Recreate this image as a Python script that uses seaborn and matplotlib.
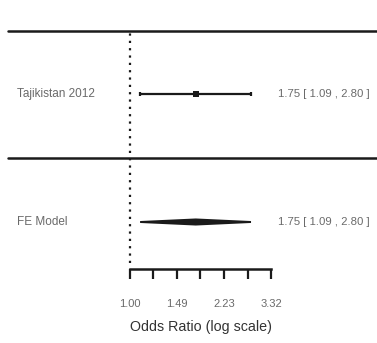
import numpy as np
import pandas as pd
import matplotlib
matplotlib.use("Agg")
import matplotlib.pyplot as plt
import seaborn as sns

# ---- data ----
study_names = ["Tajikistan 2012"]
study_or = [1.75]
study_lo = [1.09]
study_hi = [2.80]
model_name = "FE Model"
model_or = 1.75
model_lo = 1.09
model_hi = 2.80
tick_values = [1.00, 1.22, 1.49, 1.82, 2.23, 2.72, 3.32]
tick_labels = ["1.00", "", "1.49", "", "2.23", "", "3.32"]
xlabel = "Odds Ratio (log scale)"

sns.set_theme(style="white")
plt.rcParams['font.family'] = ['Liberation Sans', 'DejaVu Sans']

W, H = 377, 343
fig = plt.figure(figsize=(W / 100, H / 100), dpi=100)
ax_bottom = (H - 268.5) / H
ax = fig.add_axes([0, ax_bottom, 1, 1 - ax_bottom])

# x in log(OR) units; 117.5 px per unit, ln(1) at pixel 130
px_per = 117.5
x0 = -130 / px_per
x1 = (W - 130) / px_per
ax.set_xlim(x0, x1)
# y: study row at 1, model row at 0; 128 px per unit
py_per = 128.0
ax.set_ylim(-(268.5 - 222) / py_per, 1 + 94 / py_per)

line_col = "#1a1a1a"
text_col = "#6a6a6a"

df = pd.DataFrame({
    "name": study_names,
    "logor": np.log(study_or),
    "loglo": np.log(study_lo),
    "loghi": np.log(study_hi),
    "y": [1.0] * len(study_names),
})

# CI lines and caps
ax.hlines(df["y"], df["loglo"], df["loghi"], color=line_col, lw=1.6)
ax.vlines(df["loglo"], df["y"] - 0.015, df["y"] + 0.015, color=line_col, lw=1.6)
ax.vlines(df["loghi"], df["y"] - 0.015, df["y"] + 0.015, color=line_col, lw=1.6)
sns.scatterplot(data=df, x="logor", y="y", marker="s", s=14, color=line_col,
                edgecolor=line_col, linewidth=0, ax=ax, legend=False, zorder=3)

# diamond for the model
ml, me, mh = np.log(model_lo), np.log(model_or), np.log(model_hi)
dh = 0.02
ax.fill([ml, me, mh, me], [0, dh, 0, -dh], color=line_col, lw=1.4, ec=line_col)

# horizontal separator lines
for yy in [1.49, 0.5]:
    ax.axhline(yy, xmin=8 / W, xmax=1, color=line_col, lw=1.8)

# dotted reference line
ax.vlines(0, -(263 - 222) / py_per, 1.49, color=line_col, lw=1.6,
          linestyles=(0, (1, 2.3)))

# labels
rows = [(1.0, study_names[0], study_or[0], study_lo[0], study_hi[0]),
        (0.0, model_name, model_or, model_lo, model_hi)]
for yy, nm, e, lo, hi in rows:
    ax.text(17 / W, yy, nm, transform=ax.get_yaxis_transform(), ha="left",
            va="center", fontsize=8.5, color=text_col)
    ax.text(370 / W, yy, f"{e:.2f} [ {lo:.2f} , {hi:.2f} ]",
            transform=ax.get_yaxis_transform(), ha="right", va="center",
            fontsize=8.2, color=text_col)

# axis
for s in ["top", "left", "right"]:
    ax.spines[s].set_visible(False)
ax.spines["bottom"].set_visible(True)
ax.spines["bottom"].set_color(line_col)
ax.spines["bottom"].set_linewidth(1.8)
ax.spines["bottom"].set_bounds(np.log(tick_values[0]), np.log(tick_values[-1]))
ax.set_xticks(np.log(tick_values))
ax.set_xticklabels(tick_labels)
ax.tick_params(axis="x", bottom=True, direction="out", length=7, width=1.6,
               color=line_col, pad=15, labelsize=8, labelcolor=text_col)
ax.set_yticks([])
ax.set_ylabel("")
ax.set_xlabel(xlabel, fontsize=10.3, color="#333333", va="center")
ax.xaxis.set_label_coords((130 + 271) / 2 / W, -(327 - 268.5) / 268.5)
ax.set_facecolor("white")
ax.grid(False)

fig.savefig("out.png", dpi=100, facecolor="white")
